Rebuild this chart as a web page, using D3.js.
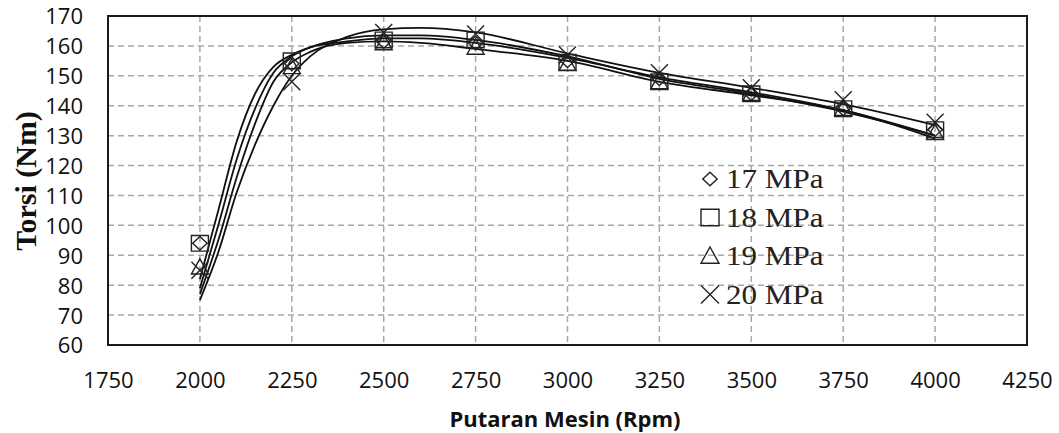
<!DOCTYPE html>
<html>
<head>
<meta charset="utf-8">
<script src="https://cdn.jsdelivr.net/npm/d3@7"></script>
<style>
  body { margin: 0; background: #fff; }
  svg { display: block; }
</style>
</head>
<body>
<svg id="chart" width="1059" height="433"></svg>
<script>
// data
const rpm = [2000, 2250, 2500, 2750, 3000, 3250, 3500, 3750, 4000];
const torsi17 = [94, 154, 161.5, 161, 155, 149, 144, 139, 132];
const torsi18 = [94, 155, 162, 162, 154.5, 148, 144, 139, 132];
const torsi19 = [86, 153, 161, 159.5, 154, 148, 144, 139, 131];
const torsi20 = [85, 148, 164.5, 164, 157, 151, 146, 142, 134.5];

// trend lines (as drawn in the picture, read at these rpm)
const trendRpm = [2000, 2050, 2100, 2150, 2200, 2250, 2300, 2400, 2500, 2600, 2750, 3000, 3250, 3500, 3750, 4000];
const trend17 = [82, 105, 128, 144, 153, 157, 159.5, 161.5, 162.5, 162.5, 161, 156, 149.5, 144.5, 138.5, 130];
const trend18 = [79, 100, 122, 139, 151, 156.5, 159.5, 162.5, 163.5, 163.5, 162, 156.5, 149, 144, 138, 130];
const trend19 = [77, 95, 116, 134, 148, 154.5, 158, 161, 161.5, 161, 159, 155, 148, 143.5, 138.5, 129];
const trend20 = [75, 91, 111, 127, 140, 150, 156.5, 163, 165.5, 166, 164.5, 157.5, 151, 146, 140.5, 133.5];

const seriesNames = ["17 MPa", "18 MPa", "19 MPa", "20 MPa"];
const seriesSymbols = ["diamond", "square", "triangle", "cross"];
const xTicks = [1750, 2000, 2250, 2500, 2750, 3000, 3250, 3500, 3750, 4000, 4250];
const yTicks = [60, 70, 80, 90, 100, 110, 120, 130, 140, 150, 160, 170];

const svg = d3.select("#chart");
const pLeft = 108, pRight = 1027, pTop = 16, pBottom = 345;

const x = d3.scaleLinear().domain([1750, 4250]).range([pLeft, pRight]);
const y = d3.scaleLinear().domain([60, 170]).range([pBottom, pTop]);

// grid
const grid = svg.append("g").attr("stroke", "#a8a8a8").attr("stroke-width", 1.5)
    .attr("stroke-dasharray", "6,4");
grid.selectAll("line.v").data(xTicks.slice(1, -1)).join("line")
    .attr("x1", d => x(d)).attr("x2", d => x(d))
    .attr("y1", pTop).attr("y2", pBottom);
grid.selectAll("line.h").data(yTicks.slice(1, -1)).join("line")
    .attr("x1", pLeft).attr("x2", pRight)
    .attr("y1", d => y(d)).attr("y2", d => y(d));

// axes labels
const xAxis = svg.append("g").attr("transform", `translate(0,${pBottom})`)
    .call(d3.axisBottom(x).tickValues(xTicks).tickSize(0).tickFormat(d3.format("d")));
xAxis.select(".domain").remove();
xAxis.selectAll("text").attr("y", 43).attr("dy", null)
    .attr("font-family", "Open Sans").attr("font-size", 22).attr("fill", "#111");

const yAxis = svg.append("g").attr("transform", `translate(${pLeft},0)`)
    .call(d3.axisLeft(y).tickValues(yTicks).tickSize(0).tickPadding(25));
yAxis.select(".domain").remove();
yAxis.selectAll("text").attr("font-family", "Open Sans").attr("font-size", 22)
    .attr("fill", "#111").attr("dy", "0.36em");

// plot border
svg.append("rect").attr("x", pLeft).attr("y", pTop)
    .attr("width", pRight - pLeft).attr("height", pBottom - pTop)
    .attr("fill", "none").attr("stroke", "#1a1a1a").attr("stroke-width", 2);

// trend lines
const line = d3.line().x(d => x(d[0])).y(d => y(d[1])).curve(d3.curveMonotoneX);
[trend17, trend18, trend19, trend20].forEach(t => {
    svg.append("path").datum(trendRpm.map((r, i) => [r, t[i]]))
        .attr("d", line).attr("fill", "none")
        .attr("stroke", "#111").attr("stroke-width", 1.8);
});

// marker shapes
function symbolPath(kind, cx, cy, s) {
    if (kind === "diamond") {
        return `M${cx},${cy - s * 0.75}L${cx + s * 0.8},${cy}L${cx},${cy + s * 0.75}L${cx - s * 0.8},${cy}Z`;
    }
    if (kind === "square") {
        return `M${cx - s},${cy - s * 0.92}h${2 * s}v${1.84 * s}h${-2 * s}Z`;
    }
    if (kind === "triangle") {
        return `M${cx},${cy - s}L${cx + s},${cy + s * 0.8}L${cx - s},${cy + s * 0.8}Z`;
    }
    return `M${cx - s},${cy - s}L${cx + s},${cy + s}M${cx + s},${cy - s}L${cx - s},${cy + s}`;
}

const markers = svg.append("g").attr("fill", "none").attr("stroke", "#222").attr("stroke-width", 1.4);
[torsi17, torsi18, torsi19, torsi20].forEach((vals, k) => {
    markers.selectAll(null).data(rpm.map((r, i) => [r, vals[i]])).join("path")
        .attr("d", d => symbolPath(seriesSymbols[k], x(d[0]), y(d[1]), k === 0 ? 9 : 8.5));
});

// legend
const legend = svg.append("g");
seriesNames.forEach((name, i) => {
    const by = 188 + i * 38.5;
    legend.append("path").attr("d", symbolPath(seriesSymbols[i], 710, by - 9, 9))
        .attr("fill", "none").attr("stroke", "#222").attr("stroke-width", 1.4);
    legend.append("text").attr("transform", `translate(726,${by}) scale(1.15,1)`)
        .attr("font-family", "Liberation Serif").attr("font-size", 27)
        .attr("fill", "#222").text(name);
});

// axis titles
svg.append("text").attr("x", 565).attr("y", 427).attr("text-anchor", "middle")
    .attr("font-family", "Open Sans").attr("font-weight", "bold").attr("font-size", 22)
    .attr("fill", "#111").text("Putaran Mesin (Rpm)");

svg.append("text").attr("transform", "translate(36,181) rotate(-90)")
    .attr("text-anchor", "middle").attr("font-family", "Liberation Serif")
    .attr("font-weight", "bold").attr("font-size", 30).attr("fill", "#111")
    .text("Torsi (Nm)");
</script>
</body>
</html>
